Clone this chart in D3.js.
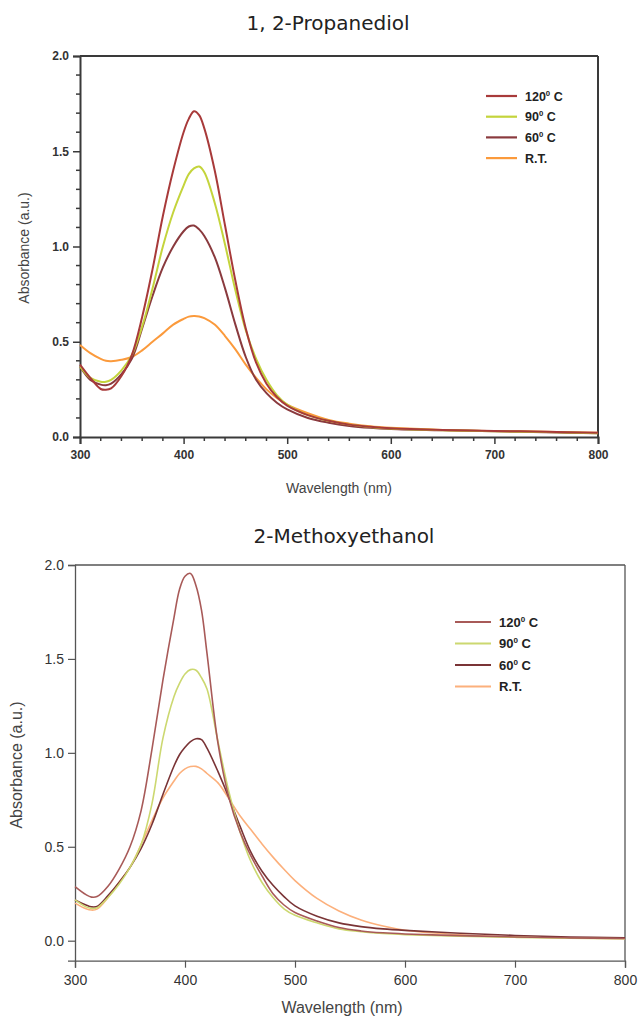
<!DOCTYPE html>
<html><head><meta charset="utf-8">
<script src="https://cdn.jsdelivr.net/npm/d3@7"></script>
<style>body{margin:0;background:#fff}svg{display:block}</style>
</head><body>
<svg id="c" width="639" height="1017"></svg>
<script>
// ---------- DATA ----------
const seriesNames = ["120", "90", "60", "R.T."];

// Chart 1: 1, 2-Propanediol
const wl1 = [300,310,320,325,330,340,350,360,370,380,390,400,405,410,415,420,430,440,450,460,470,480,490,500,520,540,560,580,600,650,700,750,800];
const pd120 = [0.38,0.31,0.252,0.248,0.255,0.32,0.43,0.63,0.88,1.16,1.40,1.60,1.67,1.71,1.69,1.62,1.40,1.11,0.82,0.57,0.39,0.28,0.21,0.165,0.115,0.085,0.065,0.054,0.046,0.037,0.032,0.027,0.022];
const pd90  = [0.37,0.31,0.29,0.29,0.30,0.35,0.43,0.58,0.78,1.00,1.18,1.32,1.38,1.41,1.42,1.39,1.23,1.01,0.77,0.56,0.41,0.30,0.22,0.17,0.115,0.085,0.065,0.053,0.045,0.036,0.030,0.026,0.020];
const pd60  = [0.37,0.30,0.275,0.272,0.28,0.33,0.41,0.57,0.74,0.89,1.00,1.08,1.105,1.11,1.09,1.055,0.945,0.78,0.59,0.42,0.30,0.23,0.18,0.145,0.10,0.075,0.058,0.048,0.042,0.035,0.030,0.025,0.020];
const pdRT  = [0.483,0.44,0.41,0.40,0.398,0.405,0.42,0.455,0.50,0.544,0.59,0.62,0.632,0.635,0.633,0.624,0.59,0.53,0.46,0.38,0.31,0.25,0.205,0.17,0.125,0.09,0.07,0.056,0.048,0.037,0.032,0.027,0.022];

// Chart 2: 2-Methoxyethanol
const wl2 = [300,310,315,320,330,340,350,360,370,380,390,395,400,405,410,415,420,430,440,450,460,470,480,490,500,520,540,560,580,600,650,700,750,800];
const me120 = [0.288,0.245,0.232,0.235,0.29,0.38,0.50,0.69,1.02,1.39,1.72,1.87,1.94,1.955,1.89,1.76,1.53,1.05,0.76,0.58,0.45,0.345,0.25,0.19,0.15,0.105,0.07,0.052,0.042,0.036,0.027,0.020,0.015,0.012];
const me90  = [0.217,0.18,0.172,0.175,0.23,0.30,0.39,0.51,0.73,1.08,1.30,1.37,1.42,1.443,1.44,1.40,1.34,1.06,0.79,0.58,0.42,0.31,0.23,0.17,0.135,0.095,0.063,0.048,0.038,0.032,0.024,0.018,0.013,0.010];
const me60  = [0.217,0.19,0.18,0.182,0.24,0.31,0.39,0.49,0.62,0.78,0.93,0.99,1.03,1.06,1.075,1.07,1.025,0.90,0.76,0.61,0.47,0.37,0.295,0.235,0.185,0.13,0.095,0.075,0.063,0.055,0.040,0.028,0.020,0.015];
const meRT  = [0.20,0.17,0.163,0.168,0.23,0.31,0.39,0.51,0.64,0.76,0.85,0.89,0.915,0.927,0.928,0.915,0.89,0.84,0.755,0.665,0.59,0.515,0.445,0.38,0.32,0.225,0.158,0.11,0.078,0.056,0.032,0.021,0.015,0.010];

const xTicks = [300,400,500,600,700,800];
const yTicks = [0.0,0.5,1.0,1.5,2.0];

const titles = ["1, 2-Propanediol", "2-Methoxyethanol"];

// ---------- DRAW ----------
const svg = d3.select("#c");

function drawChart(cfg) {
  const g = svg.append("g");
  const x = d3.scaleLinear().domain([300,800]).range([cfg.left, cfg.right]);
  const y = d3.scaleLinear().domain([cfg.ymin, 2.0]).range([cfg.bottom, cfg.top]);

  // title
  svg.append("text").attr("x", cfg.titleX).attr("y", cfg.titleY)
    .attr("text-anchor","middle").attr("font-family","DejaVu Sans, Verdana, sans-serif")
    .attr("font-size", 20).attr("fill","#222").text(cfg.title);

  // frame top & right
  g.append("line").attr("x1",cfg.left).attr("x2",cfg.right).attr("y1",cfg.top).attr("y2",cfg.top)
    .attr("stroke",cfg.axisColor).attr("stroke-width",cfg.frameW);
  g.append("line").attr("x1",cfg.right).attr("x2",cfg.right).attr("y1",cfg.top).attr("y2",cfg.bottom)
    .attr("stroke",cfg.axisColor).attr("stroke-width",cfg.frameW);

  // axes
  const xAxis = d3.axisBottom(x).tickValues(xTicks).tickFormat(d3.format("d")).tickSizeOuter(0).tickSize(cfg.tickLen).tickPadding(cfg.tickPadX);
  const yAxis = d3.axisLeft(y).tickValues(yTicks).tickFormat(d3.format(".1f")).tickSizeOuter(0).tickSize(cfg.tickLen).tickPadding(cfg.tickPadY);
  const gx = g.append("g").attr("transform",`translate(0,${cfg.bottom})`).call(xAxis);
  const gy = g.append("g").attr("transform",`translate(${cfg.left},0)`).call(yAxis);
  [gx, gy].forEach(a => {
    a.select(".domain").attr("stroke",cfg.axisColor).attr("stroke-width",cfg.frameW);
    a.selectAll(".tick line").attr("stroke",cfg.axisColor).attr("stroke-width",cfg.tickW);
    a.selectAll(".tick text").attr("font-family","Liberation Sans, Arial, sans-serif")
      .attr("font-size",cfg.tickFont).attr("font-weight",cfg.tickWeight).attr("fill","#333");
  });
  if (cfg.minor) {
    const xm = d3.range(300, 801, 20).filter(v => v % 100 !== 0);
    const ym = d3.range(0, 21, 1).map(v => v/10).filter(v => Math.round(v*10) % 5 !== 0);
    g.selectAll(null).data(xm).enter().append("line")
      .attr("x1",d=>x(d)).attr("x2",d=>x(d)).attr("y1",cfg.bottom).attr("y2",cfg.bottom+4)
      .attr("stroke",cfg.axisColor).attr("stroke-width",cfg.tickW);
    g.selectAll(null).data(ym).enter().append("line")
      .attr("y1",d=>y(d)).attr("y2",d=>y(d)).attr("x1",cfg.left).attr("x2",cfg.left-4)
      .attr("stroke",cfg.axisColor).attr("stroke-width",cfg.tickW);
  }

  // axis titles
  svg.append("text").attr("x",cfg.xTitleX).attr("y",cfg.xTitleY).attr("text-anchor","middle")
    .attr("font-family","Liberation Sans, Arial, sans-serif").attr("font-size",cfg.axTitleFont).attr("fill","#444")
    .text("Wavelength (nm)");
  svg.append("text").attr("transform",`translate(${cfg.yTitleX},${cfg.yTitleY}) rotate(-90)`).attr("text-anchor","middle")
    .attr("font-family","Liberation Sans, Arial, sans-serif").attr("font-size",cfg.axTitleFont).attr("fill","#444")
    .text("Absorbance (a.u.)");

  // curves
  const line = d3.line().x(d=>x(d[0])).y(d=>y(d[1])).curve(d3.curveCatmullRom.alpha(0.5));
  const order = [3,2,1,0];
  order.forEach(i => {
    const pts = cfg.wl.map((w,k)=>[w, cfg.series[i][k]]);
    g.append("path").datum(pts).attr("d",line).attr("fill","none")
      .attr("stroke",cfg.colors[i]).attr("stroke-width",cfg.lineW);
  });

  // legend
  const lg = svg.append("g");
  seriesNames.forEach((n,i) => {
    const yy = cfg.legY + i*cfg.legStep;
    lg.append("line").attr("x1",cfg.legX1).attr("x2",cfg.legX2).attr("y1",yy).attr("y2",yy)
      .attr("stroke",cfg.colors[i]).attr("stroke-width",2.2);
    const t = lg.append("text").attr("x",cfg.legTX).attr("y",yy+cfg.legFont*0.36)
      .attr("font-family","Liberation Sans, Arial, sans-serif").attr("font-size",cfg.legFont)
      .attr("font-weight","bold").attr("fill","#222");
    if (n === "R.T.") { t.text(n); }
    else {
      t.append("tspan").text(n);
      t.append("tspan").attr("dy",-5).attr("font-size",cfg.legFont*0.62).text("0");
      t.append("tspan").attr("dy",5).text(cfg.degSep + "C");
    }
  });
}

drawChart({
  title: titles[0], titleX: 328, titleY: 30,
  left: 80, right: 598, top: 56, bottom: 437, ymin: 0,
  axisColor: "#3a3a3a", frameW: 2, tickW: 1.5, tickLen: 7, tickPadX: 6, tickPadY: 4,
  tickFont: 12, tickWeight: "bold", minor: true,
  xTitleX: 339, xTitleY: 493, yTitleX: 29, yTitleY: 248, axTitleFont: 14,
  wl: wl1, series: [pd120, pd90, pd60, pdRT],
  colors: ["#a83a3a", "#c4d43c", "#8a3a3e", "#fb9a3c"], lineW: 2,
  legY: 96, legStep: 20.7, legX1: 486, legX2: 517, legTX: 525, legFont: 12.5, degSep: " "
});

drawChart({
  title: titles[1], titleX: 344, titleY: 543,
  left: 75, right: 625, top: 565, bottom: 960.7, ymin: -0.1065,
  axisColor: "#555", frameW: 1.3, tickW: 1.2, tickLen: 7, tickPadX: 7, tickPadY: 4,
  tickFont: 14, tickWeight: "normal", minor: false,
  xTitleX: 342, xTitleY: 1013, yTitleX: 22, yTitleY: 765, axTitleFont: 16,
  wl: wl2, series: [me120, me90, me60, meRT],
  colors: ["#a85a58", "#ccd870", "#7a3436", "#fcb07c"], lineW: 1.6,
  legY: 622, legStep: 21.5, legX1: 455, legX2: 491, legTX: 499, legFont: 13, degSep: " "
});
</script>
</body></html>
